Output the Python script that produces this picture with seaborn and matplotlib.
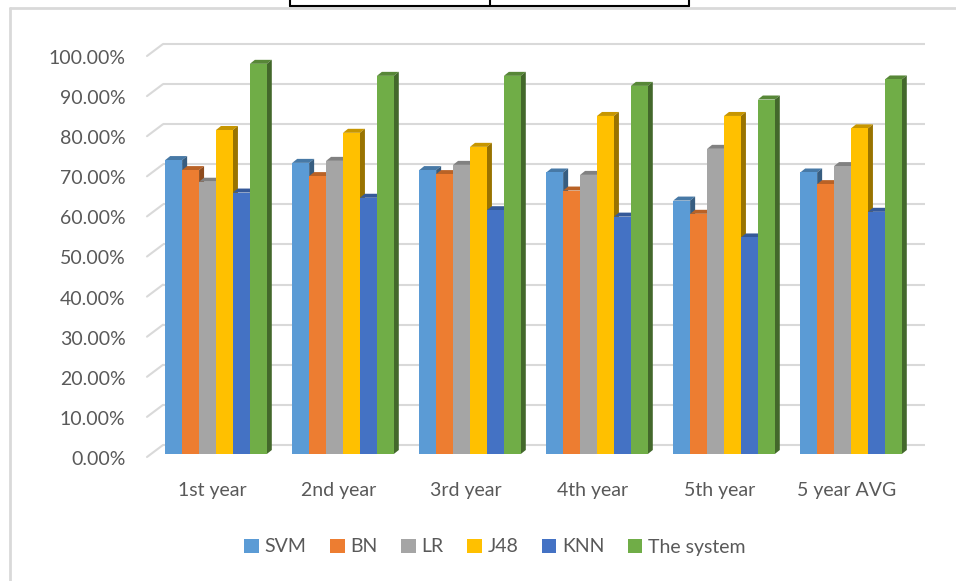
import numpy as np
import pandas as pd
import matplotlib
matplotlib.use("Agg")
import matplotlib.pyplot as plt
import matplotlib.transforms as mtransforms
from matplotlib.patches import Polygon, Patch
from matplotlib.lines import Line2D
import seaborn as sns

# ---------------- data ----------------
categories = ["1st year", "2nd year", "3rd year", "4th year", "5th year", "5 year AVG"]
models = ["SVM", "BN", "LR", "J48", "KNN", "The system"]
svm = [0.733, 0.726, 0.708, 0.702, 0.632, 0.702]
bn = [0.708, 0.693, 0.698, 0.657, 0.599, 0.673]
lr = [0.679, 0.731, 0.721, 0.696, 0.761, 0.718]
j48 = [0.808, 0.801, 0.766, 0.843, 0.843, 0.812]
knn = [0.652, 0.639, 0.608, 0.592, 0.540, 0.604]
the_system = [0.973, 0.943, 0.943, 0.918, 0.884, 0.934]
y_ticks = [0.0, 0.1, 0.2, 0.3, 0.4, 0.5, 0.6, 0.7, 0.8, 0.9, 1.0]
colors = ["#5B9BD5", "#ED7D31", "#A5A5A5", "#FFC000", "#4472C4", "#70AD47"]

series = [svm, bn, lr, j48, knn, the_system]
df = pd.DataFrame({
    "year": np.tile(categories, len(models)),
    "model": np.repeat(models, len(categories)),
    "value": np.concatenate(series),
})

# ---------------- figure ----------------
sns.set_theme(style="white")
plt.rcParams["font.family"] = ["Lato", "DejaVu Sans"]
W, H, DPI = 956, 581, 100
fig = plt.figure(figsize=(W / DPI, H / DPI), dpi=DPI)
fig.patch.set_facecolor("white")

ax_l, ax_r, ax_b, ax_t = 152.5, 914.5, 454.0, 53.0
ax = fig.add_axes([ax_l / W, (H - ax_b) / H, (ax_r - ax_l) / W, (ax_b - ax_t) / H])
ax.set_facecolor("none")

sns.barplot(data=df, x="year", y="value", hue="model", hue_order=models,
            order=categories, palette=colors, saturation=1, width=0.8,
            ax=ax, legend=False, zorder=3, linewidth=0)

ax.set_xlim(-0.5, len(categories) - 0.5)
ax.set_ylim(0, 1.0)

# pixel -> data scale
sx = (len(categories)) / (ax_r - ax_l)
sy = 1.0 / (ax_b - ax_t)

# back-wall gridlines (offset up/right) and slanted connectors
grid_col = "#D9D9D9"
bdx, bdy = 10.5, 9.0     # back wall offset (px)
fdx, fdy = -5.5, -3.0    # front edge offset (px)
x0, x1 = -0.5, len(categories) - 0.5
for t in y_ticks:
    ax.plot([x0 + bdx * sx, x1 + bdx * sx], [t + bdy * sy, t + bdy * sy],
            color=grid_col, lw=1.5, zorder=1, clip_on=False, solid_capstyle="butt")
    ax.plot([x0 + fdx * sx, x0 + bdx * sx], [t + fdy * sy, t + bdy * sy],
            color=grid_col, lw=1.5, zorder=1, clip_on=False)

# 3D faces derived from seaborn bars
ddx, ddy = 5.0, 4.0
for cont, col in zip(ax.containers, colors):
    rgb = np.array(matplotlib.colors.to_rgb(col))
    top_c = rgb * 0.78
    side_c = rgb * 0.6
    for p in cont.patches:
        x, w, h = p.get_x(), p.get_width(), p.get_height()
        dx, dy = ddx * sx, ddy * sy
        top = Polygon([(x, h), (x + w, h), (x + w + dx, h + dy), (x + dx, h + dy)],
                      closed=True, facecolor=top_c, edgecolor="none", zorder=2, clip_on=False)
        side = Polygon([(x + w, 0), (x + w, h), (x + w + dx, h + dy), (x + w + dx, dy)],
                       closed=True, facecolor=side_c, edgecolor="none", zorder=2, clip_on=False)
        ax.add_patch(top)
        ax.add_patch(side)

# axes styling
for s in ax.spines.values():
    s.set_visible(False)
ax.set_xlabel("")
ax.set_ylabel("")
txt_col = "#595959"
ax.set_yticks(y_ticks)
ax.set_yticklabels([f"{v:.2%}" for v in y_ticks])
ax.tick_params(axis="y", length=0, pad=19.5, labelsize=14, labelcolor=txt_col)
ax.tick_params(axis="x", length=0, pad=20, labelsize=14, labelcolor=txt_col)
off_y = mtransforms.ScaledTranslation(0, -4 / DPI, fig.dpi_scale_trans)
for lab in ax.get_yticklabels():
    lab.set_transform(lab.get_transform() + off_y)
off_x = mtransforms.ScaledTranslation(-4 / DPI, 0, fig.dpi_scale_trans)
for lab in ax.get_xticklabels():
    lab.set_transform(lab.get_transform() + off_x)

# legend
handles = [Patch(facecolor=c, edgecolor="none") for c in colors]
leg = fig.legend(handles, models, loc="center", bbox_to_anchor=(495 / W, 1 - 547 / H),
                 ncol=6, frameon=False, fontsize=14, handlelength=0.75, handleheight=0.75,
                 handletextpad=0.3, columnspacing=1.2, labelcolor=txt_col)

# chart border (light gray) and top table fragment
def fx(px):
    return px / W

def fy(py):
    return 1 - py / H

fig.add_artist(Line2D([fx(10), fx(956)], [fy(8), fy(8)], color="#D9D9D9", lw=2))
fig.add_artist(Line2D([fx(10), fx(10)], [fy(8), fy(581)], color="#D9D9D9", lw=2))
fig.add_artist(Line2D([fx(290), fx(689)], [fy(6), fy(6)], color="black", lw=1.5))
for xx in (290, 490, 689):
    fig.add_artist(Line2D([fx(xx), fx(xx)], [fy(0), fy(6)], color="black", lw=1.5))

fig.savefig("out.png", dpi=DPI, facecolor="white")
